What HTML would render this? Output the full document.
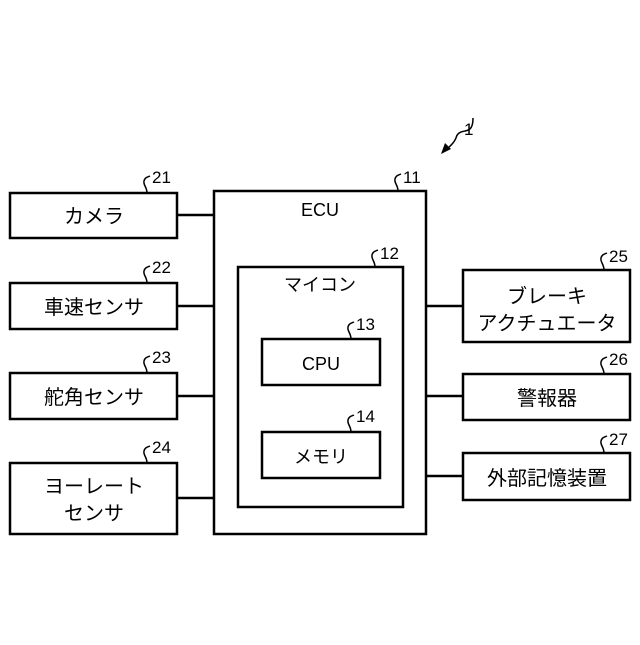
<!DOCTYPE html>
<html><head><meta charset="utf-8"><style>
body{margin:0;background:#fff}
svg text{font-family:"Liberation Sans","Noto Sans CJK JP",sans-serif;fill:#000}
</style></head><body>
<svg width="640" height="640" viewBox="0 0 640 640" xmlns="http://www.w3.org/2000/svg">
<g fill="none" stroke="#000" stroke-width="2.5">
<rect x="10" y="193" width="167" height="45"/>
<rect x="10" y="283" width="167" height="46"/>
<rect x="10" y="373" width="167" height="46"/>
<rect x="10" y="463" width="167" height="71"/>
<rect x="214" y="191" width="212" height="343"/>
<rect x="238" y="267" width="165" height="240"/>
<rect x="262" y="339" width="118" height="46"/>
<rect x="262" y="432" width="118" height="46"/>
<rect x="463" y="270" width="167" height="72"/>
<rect x="463" y="374" width="167" height="46"/>
<rect x="463" y="453" width="167" height="47"/>
<path d="M177 215H214M177 306H214M177 396H214M177 498H214M426 306H463M426 396H463M426 476H463"/>
</g>
<g fill="none" stroke="#000" stroke-width="1.5">
<path d="M147 193c0-6-4-8-3-12 1-4 4-4 6-5"/>
<path d="M147 283c0-6-4-8-3-12 1-4 4-4 6-5"/>
<path d="M147 373c0-6-4-8-3-12 1-4 4-4 6-5"/>
<path d="M147 463c0-6-4-8-3-12 1-4 4-4 6-5"/>
<path d="M398 191c0-6-4-8-3-12 1-4 4-4 6-5"/>
<path d="M375 267c0-6-4-8-3-12 1-4 4-4 6-5"/>
<path d="M351 339c0-6-4-8-3-12 1-4 4-4 6-5"/>
<path d="M351 432c0-6-4-8-3-12 1-4 4-4 6-5"/>
<path d="M604 270c0-6-4-8-3-12 1-4 4-4 6-5"/>
<path d="M604 374c0-6-4-8-3-12 1-4 4-4 6-5"/>
<path d="M604 453c0-6-4-8-3-12 1-4 4-4 6-5"/>
<path d="M473 118c0 10-3 12-8 13-6 1-8 3-9 7-2 5-6 8-11 13"/>
</g>
<path d="M441 154l4-11 6 6z" fill="#000"/>
<g font-size="17">
<text x="152" y="183">21</text><text x="152" y="273">22</text><text x="152" y="363">23</text><text x="152" y="453">24</text>
<text x="403" y="183">11</text><text x="380" y="259">12</text><text x="356" y="330">13</text><text x="356" y="422">14</text>
<text x="609" y="262">25</text><text x="609" y="365">26</text><text x="609" y="445">27</text>
<text x="464" y="135">1</text>
</g>
<g font-size="20" text-anchor="middle">
<text x="94" y="223">カメラ</text>
<text x="94" y="314">車速センサ</text>
<text x="94" y="404">舵角センサ</text>
<text x="94" y="493">ヨーレート</text>
<text x="94" y="520">センサ</text>
<text x="320" y="216" font-size="18">ECU</text>
<text x="320" y="291" font-size="18">マイコン</text>
<text x="321" y="370" font-size="18">CPU</text>
<text x="321" y="463" font-size="18">メモリ</text>
<text x="547" y="303">ブレーキ</text>
<text x="547" y="330">アクチュエータ</text>
<text x="547" y="405">警報器</text>
<text x="547" y="485">外部記憶装置</text>
</g>
</svg>
</body></html>
